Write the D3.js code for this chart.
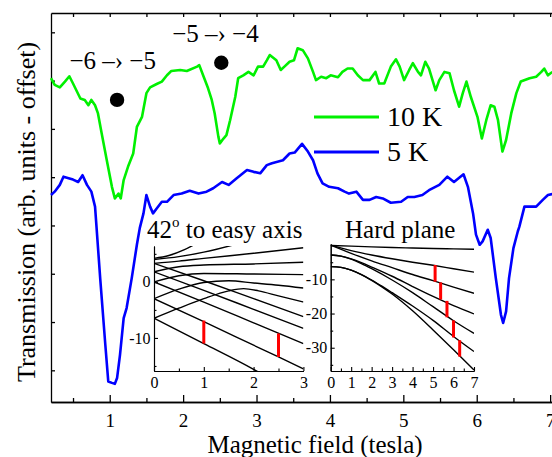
<!DOCTYPE html>
<html>
<head>
<meta charset="utf-8">
<script src="https://cdn.jsdelivr.net/npm/d3@7"></script>
<style>
  body { margin: 0; background: #fff; }
  svg { display: block; }
</style>
</head>
<body>
<svg id="chart" width="552" height="457"></svg>
<script>
// spectra, [field (T), transmission (arb. units, offset)]
const green10K = [[0.20,7.05],[0.25,6.91],[0.32,6.86],[0.39,6.98],[0.45,7.09],[0.50,6.94],[0.60,6.63],[0.66,6.60],
  [0.71,6.49],[0.75,6.60],[0.80,6.49],[0.84,6.32],[0.89,5.91],[0.96,5.35],[1.03,4.80],[1.07,4.56],[1.12,4.66],
  [1.15,4.56],[1.19,4.94],[1.25,5.22],[1.32,5.49],[1.37,6.04],[1.44,6.25],[1.50,6.74],[1.55,6.86],[1.64,6.93],
  [1.71,6.98],[1.78,7.11],[1.84,7.20],[1.96,7.22],[2.05,7.20],[2.19,7.29],[2.22,7.32],[2.28,7.08],[2.34,6.84],
  [2.39,6.60],[2.43,6.32],[2.48,5.84],[2.50,5.70],[2.55,5.80],[2.59,5.87],[2.64,6.18],[2.71,6.66],[2.75,7.05],
  [2.82,7.11],[2.89,7.18],[2.96,7.11],[3.02,7.29],[3.09,7.29],[3.14,7.42],[3.18,7.53],[3.27,7.42],[3.33,7.22],
  [3.38,7.29],[3.45,7.39],[3.51,7.42],[3.56,7.67],[3.63,7.63],[3.70,7.46],[3.77,7.18],[3.81,7.01],[3.88,7.08],
  [3.95,7.05],[4.01,7.11],[4.11,7.07],[4.17,7.18],[4.24,7.25],[4.31,7.25],[4.38,7.11],[4.45,7.01],[4.54,7.01],
  [4.62,7.18],[4.67,6.94],[4.74,6.94],[4.83,7.29],[4.90,7.44],[4.95,7.29],[5.01,7.01],[5.08,7.22],[5.13,7.36],
  [5.20,7.18],[5.24,7.11],[5.30,7.39],[5.35,7.25],[5.44,6.80],[5.49,7.01],[5.56,7.18],[5.63,7.15],[5.69,6.80],
  [5.76,6.46],[5.81,6.74],[5.86,6.98],[5.92,6.66],[6.01,6.25],[6.07,5.80],[6.13,6.18],[6.19,6.49],[6.24,6.46],
  [6.29,6.18],[6.35,5.53],[6.40,5.77],[6.47,6.32],[6.54,6.74],[6.60,6.98],[6.72,7.05],[6.81,7.08],[6.88,7.18],
  [6.92,7.25],[6.97,7.11],[7.03,7.18]];

const blue5K = [[0.20,4.63],[0.25,4.70],[0.32,4.84],[0.37,5.01],[0.44,4.98],[0.50,4.95],[0.57,4.90],[0.63,5.04],
  [0.69,4.84],[0.75,4.70],[0.80,4.39],[0.82,3.97],[0.87,2.91],[0.94,1.53],[0.98,0.77],[1.03,0.74],[1.07,0.72],
  [1.10,0.84],[1.14,1.32],[1.19,2.08],[1.23,2.29],[1.30,2.91],[1.37,3.60],[1.41,3.95],[1.46,4.25],[1.50,4.63],
  [1.55,4.39],[1.59,4.25],[1.64,4.35],[1.71,4.49],[1.78,4.49],[1.87,4.63],[1.98,4.66],[2.09,4.72],[2.21,4.66],
  [2.32,4.70],[2.41,4.77],[2.53,4.90],[2.62,4.84],[2.73,4.98],[2.87,5.15],[2.96,5.11],[3.05,5.08],[3.14,5.25],
  [3.21,5.29],[3.36,5.35],[3.45,5.49],[3.52,5.51],[3.62,5.69],[3.70,5.53],[3.77,5.35],[3.83,5.08],[3.90,4.87],
  [3.99,4.80],[4.11,4.77],[4.20,4.70],[4.26,4.66],[4.36,4.70],[4.45,4.53],[4.54,4.53],[4.63,4.59],[4.72,4.56],
  [4.83,4.47],[4.97,4.49],[5.06,4.59],[5.15,4.59],[5.26,4.63],[5.35,4.73],[5.49,4.84],[5.60,5.01],[5.69,4.90],
  [5.82,5.06],[5.88,4.80],[5.95,4.25],[5.99,3.81],[6.04,3.60],[6.08,3.67],[6.15,3.91],[6.19,3.74],[6.26,2.91],
  [6.33,2.15],[6.36,1.98],[6.40,2.22],[6.44,2.91],[6.50,3.53],[6.56,3.88],[6.58,3.97],[6.65,4.39],[6.72,4.39],
  [6.81,4.39],[6.90,4.53],[6.97,4.63],[7.03,4.65]];

const seriesNames = ["10 K", "5 K"];
const seriesColors = ["#00f000", "#0000ff"];

const xTicks = [1, 2, 3, 4, 5, 6, 7];
const yTicks = [1, 2, 3, 4, 5, 6, 7, 8];

// transition markers on the 10 K trace
const transitionLabels = ["\u22126 \u2013\u203a \u22125", "\u22125 \u2013\u203a \u22124"];
const transitionLabelAt = [[1.04, 7.25], [2.44, 7.80]];
const transitionDots = [[1.10, 6.60], [2.52, 7.37]];

// inset 1: levels vs field at 42 deg to easy axis, [B (T), E]
const easyLevels = [
  [[0,-6.5],[1,-11.0],[2,-15.6],[2.1,-16.1]],
  [[0,-3.0],[1,-7.1],[2,-11.3],[3,-15.5]],
  [[0,0.0],[1,-3.6],[2,-7.3],[3,-11.0]],
  [[0,1.8],[1,-1.5],[2,-4.9],[3,-8.3]],
  [[0,3.3],[1,0.2],[2,-3.0],[3,-6.2]],
  [[0,-6.5],[0.5,-4.7],[1,-3.0],[1.5,-1.6],[1.8,-1.2],[2.1,-1.6],[2.5,-2.5],[3,-3.6]],
  [[0,-3.0],[0.5,-1.3],[1,-0.1],[1.5,0.2],[2,-0.2],[2.5,-0.6],[3,-1.1]],
  [[0,0.0],[0.5,1.1],[1,1.5],[2,1.4],[3,1.3]],
  [[0,1.8],[0.5,2.7],[1,3.0],[2,3.2],[3,3.5]],
  [[0,3.3],[0.5,3.7],[1,4.2],[2,5.1],[3,6.1]],
  [[0,4.0],[0.5,4.5],[1,5.3],[1.6,6.6]],
  [[0,4.2],[0.3,4.7],[0.6,5.7],[0.8,6.6]]
];
const easyBars = [[1.0, -6.9, -11.0], [2.5, -9.2, -13.4]];

// inset 2: levels vs field in the hard plane
const hardLevels = [
  [[0,-0.1],[1,-0.3],[2,-0.5],[3,-0.7],[4,-0.85],[5,-1.0],[6,-1.1],[7,-1.2]],
  [[0,0],[1,-1.6],[2,-2.9],[3,-4.0],[4,-5.0],[5,-5.9],[6,-6.9],[7,-7.9]],
  [[0,0],[1,-2.4],[2,-4.6],[3,-6.6],[4,-8.6],[5,-10.4],[6,-12.3],[7,-14.1]],
  [[0,-2.9],[0.5,-3.2],[1,-4.0],[1.5,-5.1],[2,-6.4],[3,-9.1],[4,-12.1],[5,-15.0],[6,-17.7],[7,-20.1]],
  [[0,-2.9],[0.5,-3.2],[1,-4.1],[1.5,-5.4],[2,-6.9],[3,-10.2],[4,-13.9],[5,-18.0],[6,-22.1],[7,-25.8]],
  [[0,-6.3],[0.5,-6.5],[1,-7.3],[1.5,-8.6],[2,-10.2],[2.5,-12.0],[3,-13.9],[4,-17.8],[5,-22.0],[6,-26.7],[7,-31.1]],
  [[0,-6.3],[0.5,-6.5],[1,-7.3],[1.5,-8.6],[2,-10.3],[2.5,-12.2],[3,-14.3],[4,-19.2],[5,-24.8],[6,-30.6],[7,-36.5]]
];
const hardBars = [[5.1,-5.8,-10.7],[5.37,-10.9,-15.9],[5.68,-16.3,-21.1],[6.0,-22.0,-27.0],[6.3,-27.8,-32.6]];

const serif = "Liberation Serif";
const svg = d3.select("#chart");

// main scales
const x = d3.scaleLinear().domain([0.2, 7.05]).range([51, 553.8]);
const y = d3.scaleLinear().domain([0.344, 8.4]).range([402, 13]);

function styleAxis(g, size) {
  g.attr("font-family", null).attr("font-size", null);
  g.selectAll("path, line").attr("stroke", "#000").attr("stroke-width", 1.3);
  g.selectAll("text").attr("fill", "#000").attr("font-size", size);
}

// bottom axis, major + minor
svg.append("g").attr("transform", `translate(0,${y.range()[0]})`)
  .call(d3.axisBottom(x).tickValues(xTicks).tickSize(-7).tickSizeOuter(0).tickPadding(11.5).tickFormat(d3.format("d")))
  .call(g => styleAxis(g, 19));
svg.append("g").attr("transform", `translate(0,${y.range()[0]})`)
  .call(d3.axisBottom(x).tickValues(d3.range(0.5, 7, 1)).tickSize(-4).tickSizeOuter(0).tickFormat(""))
  .call(g => styleAxis(g, 19));
// top axis
svg.append("g").attr("transform", `translate(0,${y.range()[1]})`)
  .call(d3.axisTop(x).tickValues(d3.range(0.5, 7.01, 0.5)).tickSize(-4).tickSizeOuter(0).tickFormat(""))
  .call(g => styleAxis(g, 19));
// left axis
svg.append("g").attr("transform", `translate(${x.range()[0]},0)`)
  .call(d3.axisLeft(y).tickValues(yTicks).tickSize(-4).tickSizeOuter(0).tickFormat(""))
  .call(g => styleAxis(g, 19));

// axis titles
svg.append("text")
  .attr("x", 315).attr("y", 453)
  .attr("text-anchor", "middle").attr("font-size", 25)
  .text("Magnetic field (tesla)");
svg.append("text")
  .attr("transform", "translate(35,212) rotate(-90)")
  .attr("text-anchor", "middle").attr("font-size", 26)
  .text("Transmission (arb. units - offset)");

// spectra
const mainLine = d3.line().x(d => x(d[0])).y(d => y(d[1]));
[green10K, blue5K].forEach((s, i) => {
  svg.append("path").datum(s)
    .attr("d", mainLine)
    .attr("fill", "none")
    .attr("stroke", seriesColors[i])
    .attr("stroke-width", 2.6)
    .attr("stroke-linejoin", "round");
});

// transition annotations
svg.selectAll("circle.dot").data(transitionDots).join("circle")
  .attr("class", "dot")
  .attr("cx", d => x(d[0])).attr("cy", d => y(d[1])).attr("r", 7.2)
  .attr("fill", "#000");
svg.selectAll("text.trans").data(transitionLabels).join("text")
  .attr("class", "trans")
  .attr("x", (d, i) => x(transitionLabelAt[i][0]))
  .attr("y", (d, i) => y(transitionLabelAt[i][1]))
  .attr("text-anchor", "middle").attr("font-size", 25)
  .text(d => d);

// legend
const legend = svg.append("g").attr("transform", "translate(314,117)");
seriesNames.forEach((name, i) => {
  legend.append("line")
    .attr("x1", 0).attr("x2", 65).attr("y1", i * 35).attr("y2", i * 35)
    .attr("stroke", seriesColors[i]).attr("stroke-width", 3);
  legend.append("text")
    .attr("x", 73).attr("y", i * 35 + 9)
    .attr("font-size", 28)
    .text(name);
});

// ---- insets ----
function drawInset(opts) {
  const ix = d3.scaleLinear().domain(opts.xDomain).range(opts.xRange);
  const iy = d3.scaleLinear().domain(opts.yDomain).range(opts.yRange);
  const g = svg.append("g");

  g.append("clipPath").attr("id", opts.id)
    .append("rect")
    .attr("x", opts.xRange[0]).attr("y", opts.yRange[1])
    .attr("width", opts.xRange[1] - opts.xRange[0])
    .attr("height", opts.yRange[0] - opts.yRange[1]);

  const lvl = d3.line().curve(d3.curveMonotoneX).x(d => ix(d[0])).y(d => iy(d[1]));
  g.append("g").attr("clip-path", `url(#${opts.id})`)
    .selectAll("path").data(opts.levels).join("path")
    .attr("d", lvl)
    .attr("fill", "none").attr("stroke", "#000").attr("stroke-width", 1.4);

  g.selectAll("line.bar").data(opts.bars).join("line")
    .attr("class", "bar")
    .attr("x1", d => ix(d[0])).attr("x2", d => ix(d[0]))
    .attr("y1", d => iy(d[1])).attr("y2", d => iy(d[2]))
    .attr("stroke", "#ff0000").attr("stroke-width", 3);

  g.append("g").attr("transform", `translate(0,${opts.yRange[0]})`)
    .call(d3.axisBottom(ix).tickValues(opts.xMajor).tickSize(-4).tickSizeOuter(0).tickPadding(5.5).tickFormat(d3.format("d")))
    .call(a => styleAxis(a, 16));
  g.append("g").attr("transform", `translate(0,${opts.yRange[0]})`)
    .call(d3.axisBottom(ix).tickValues(opts.xMinor).tickSize(-2.5).tickSizeOuter(0).tickFormat(""))
    .call(a => styleAxis(a, 16));
  g.append("g").attr("transform", `translate(${opts.xRange[0]},0)`)
    .call(d3.axisLeft(iy).tickValues(opts.yMajor).tickSize(-4).tickSizeOuter(0).tickPadding(3.5).tickFormat(d => String(d)))
    .call(a => styleAxis(a, 16));
  g.append("g").attr("transform", `translate(${opts.xRange[0]},0)`)
    .call(d3.axisLeft(iy).tickValues(opts.yMinor).tickSize(-2.5).tickSizeOuter(0).tickFormat(""))
    .call(a => styleAxis(a, 16));

  g.selectAll(".domain, .tick line").attr("stroke-width", 1.1);
  return g;
}

const easy = drawInset({
  id: "clipEasy", levels: easyLevels, bars: easyBars,
  xDomain: [0, 3], xRange: [154, 303.4],
  yDomain: [-15.9, 6.4], yRange: [371, 246],
  xMajor: [0, 1, 2, 3], xMinor: [0.5, 1.5, 2.5],
  yMajor: [-10, 0], yMinor: [-15, -5, 5]
});
const easyTitle = easy.append("text").attr("x", 147).attr("y", 238).attr("font-size", 25);
easyTitle.append("tspan").text("42");
easyTitle.append("tspan").attr("font-size", 15).attr("dy", -11).text("o");
easyTitle.append("tspan").attr("dy", 11).text(" to easy axis");

const hard = drawInset({
  id: "clipHard", levels: hardLevels, bars: hardBars,
  xDomain: [0, 7], xRange: [330.7, 474],
  yDomain: [-36.8, 0.3], yRange: [371, 244.1],
  xMajor: [0, 1, 2, 3, 4, 5, 6, 7], xMinor: d3.range(0.5, 7, 1),
  yMajor: [-30, -20, -10], yMinor: [-35, -25, -15, -5]
});
hard.append("text").attr("x", 345).attr("y", 238).attr("font-size", 25).text("Hard plane");

// every text gets the serif face directly
svg.selectAll("text, tspan").attr("font-family", serif);
</script>
</body>
</html>
